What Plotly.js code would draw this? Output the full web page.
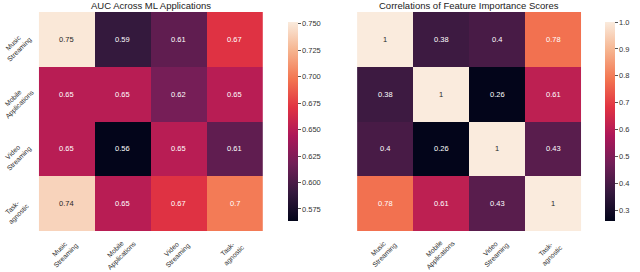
<!DOCTYPE html>
<html><head><meta charset="utf-8">
<script src="https://cdn.plot.ly/plotly-3.0.1.min.js"></script>
<style>html,body{margin:0;padding:0;background:#fff}#c{width:640px;height:272px}</style>
</head><body><div id="c"></div>
<script>
const categories = ["Music<br>Streaming", "Mobile<br>Applications", "Video<br>Streaming", "Task-<br>agnostic"];
const aucValues = [
  [0.75, 0.59, 0.61, 0.67],
  [0.65, 0.65, 0.62, 0.65],
  [0.65, 0.56, 0.65, 0.61],
  [0.74, 0.65, 0.67, 0.70]
];
const corrValues = [
  [1, 0.38, 0.40, 0.78],
  [0.38, 1, 0.26, 0.61],
  [0.40, 0.26, 1, 0.43],
  [0.78, 0.61, 0.43, 1]
];
const aucTicks = [0.575, 0.600, 0.625, 0.650, 0.675, 0.700, 0.725, 0.750];
const corrTicks = [0.3, 0.4, 0.5, 0.6, 0.7, 0.8, 0.9, 1.0];
const titles = ["AUC Across ML Applications", "Correlations of Feature Importance Scores"];

const rocket = [
  [0, "#03051a"], [1/7, "#35193e"], [2/7, "#701f57"], [3/7, "#ad1759"],
  [4/7, "#e13342"], [5/7, "#f37651"], [6/7, "#f6b48f"], [1, "#faebdd"]
];
const FONT = "Liberation Sans, Arial, sans-serif";
const aucRange = [0.5636, 0.7517];
const corrRange = [0.26, 1.0];

function fmt(v){ return String(+v.toFixed(2)); }

const cbCommon = {xanchor:"left", thickness:10, len:219/272, lenmode:"fraction",
  y:41/272, yanchor:"bottom", outlinewidth:0, ticks:"outside", ticklen:3, tickcolor:"#555",
  tickfont:{size:7.5, color:"#333", family:FONT}};

const traces = [
  {type:"heatmap", z:aucValues, x:categories, y:categories, xaxis:"x", yaxis:"y",
   colorscale:rocket, zmin:aucRange[0], zmax:aucRange[1], hoverinfo:"skip",
   colorbar:Object.assign({}, cbCommon, {x:286/640, tickvals:aucTicks, ticktext:aucTicks.map(v=>v.toFixed(3))})},
  {type:"heatmap", z:corrValues, x:categories, y:categories, xaxis:"x2", yaxis:"y2",
   colorscale:rocket, zmin:corrRange[0], zmax:corrRange[1], hoverinfo:"skip",
   colorbar:Object.assign({}, cbCommon, {x:613/640, tickvals:corrTicks, ticktext:corrTicks.map(v=>v.toFixed(1))})}
];

const annotations = [];
const lblFont = {size:6.8, family:FONT, color:"#333"};
function addAnn(vals, rng, xa, ya){
  vals.forEach((row,i)=>row.forEach((v,j)=>{
    const n = (v-rng[0])/(rng[1]-rng[0]);
    annotations.push({x:categories[j], y:categories[i], xref:xa, yref:ya, text:fmt(v),
      showarrow:false, font:{size:7.5, family:FONT, color: n>0.85 ? "#262626" : "#ffffff"}});
  }));
  categories.forEach(c=>{
    annotations.push({x:c, xref:xa, y:1-252/272, yref:"paper", text:c, textangle:-45,
      xanchor:"center", yanchor:"middle", align:"center", xshift:-4, showarrow:false, font:lblFont});
  });
}
addAnn(aucValues, aucRange, "x", "y");
addAnn(corrValues, corrRange, "x2", "y2");
categories.forEach(c=>{
  annotations.push({x:17/640, xref:"paper", y:c, yref:"y", text:c, textangle:-45,
    xanchor:"center", yanchor:"middle", align:"center", yshift:-7, showarrow:false, font:lblFont});
});
annotations.push({text:titles[0], x:(40+271)/2/640, y:1-5/272, xref:"paper", yref:"paper",
  showarrow:false, xanchor:"center", yanchor:"middle", font:{size:9.5, family:FONT, color:"#222"}});
annotations.push({text:titles[1], x:(368+599)/2/640, y:1-5/272, xref:"paper", yref:"paper",
  showarrow:false, xanchor:"center", yanchor:"middle", font:{size:9.5, family:FONT, color:"#222"}});

const ydom = [41/272, 260/272];
const ax = {showticklabels:false, showgrid:false, zeroline:false, ticks:""};
const layout = {
  width:640, height:272, margin:{l:0,r:0,t:0,b:0},
  paper_bgcolor:"#fff", plot_bgcolor:"#fff", showlegend:false,
  xaxis:Object.assign({domain:[40/640, 271/640], anchor:"y"}, ax),
  yaxis:Object.assign({domain:ydom, anchor:"x", autorange:"reversed"}, ax),
  xaxis2:Object.assign({domain:[368/640, 599/640], anchor:"y2"}, ax),
  yaxis2:Object.assign({domain:ydom, anchor:"x2", autorange:"reversed"}, ax),
  annotations:annotations
};
Plotly.newPlot("c", traces, layout, {staticPlot:true, displayModeBar:false});
</script></body></html>
